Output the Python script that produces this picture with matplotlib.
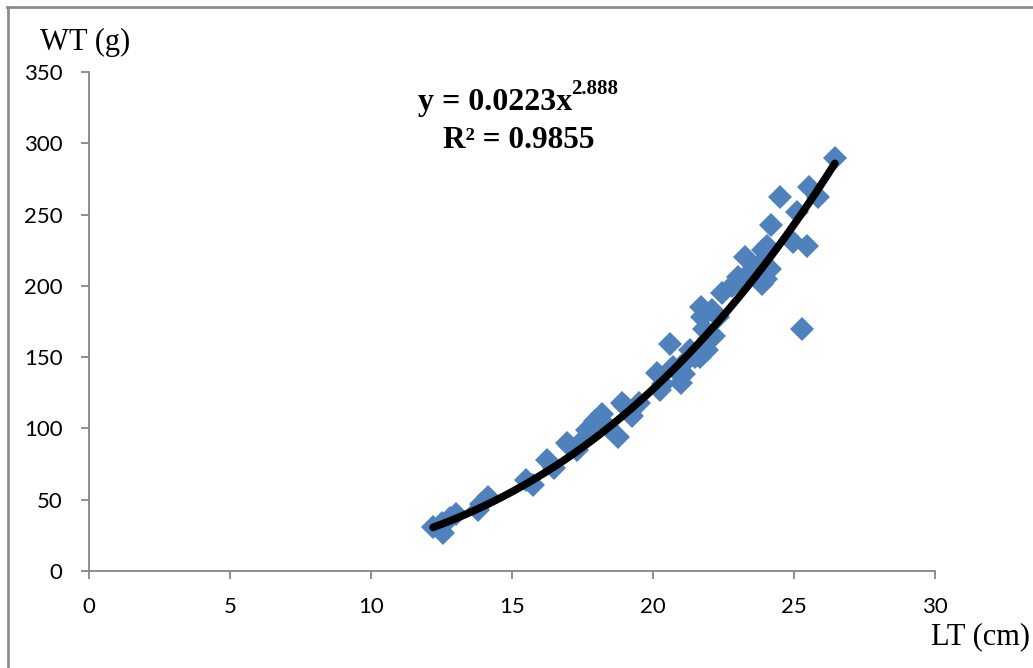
import numpy as np
import matplotlib
matplotlib.use('Agg')
import matplotlib.pyplot as plt
from matplotlib.lines import Line2D

# length (cm) and weight (g)
lt = [12.2, 12.55, 12.5, 12.8, 13.0, 13.8, 13.9, 14.15, 15.5, 15.75,
      16.25, 16.5, 16.95, 17.05, 17.3, 17.5, 17.65, 17.95, 18.2, 18.4,
      18.75, 18.9, 19.0, 19.25, 19.5, 20.15, 20.25, 20.35, 20.6, 20.7,
      20.85, 21.0, 21.05, 21.1, 21.3, 21.5, 21.65, 21.7, 21.75, 21.8,
      21.9, 22.0, 22.1, 22.15, 22.3, 22.45, 22.8, 23.0, 23.25, 23.3,
      23.5, 23.7, 23.85, 23.9, 24.0, 24.05, 24.15, 24.2, 24.5, 24.95,
      25.1, 25.3, 25.45, 25.55, 25.85, 26.45]
wt = [31, 27, 34, 37, 40, 43, 47, 52, 64, 60,
      78, 72, 90, 88, 85, 92, 99, 105, 110, 101,
      94, 118, 116, 109, 118, 139, 127, 131, 159, 143,
      140, 132, 145, 138, 155, 150, 150, 185, 178, 170,
      155, 163, 183, 165, 178, 195, 200, 206, 220, 207,
      210, 213, 201, 225, 205, 228, 212, 243, 262, 231,
      252, 170, 228, 269, 262, 290]

# power fit reported on the chart
coef_a, coef_b = 0.0223, 2.888
r2 = 0.9855

x_ticks = [0, 5, 10, 15, 20, 25, 30]
y_ticks = [0, 50, 100, 150, 200, 250, 300, 350]

fig = plt.figure(figsize=(10.33, 6.68), dpi=100)
ax = fig.add_axes([0.0862, 0.1452, 0.8189, 0.7470])

ax.plot(lt, wt, 'D', color='#4F81BD', markersize=12.5, markeredgewidth=0, zorder=2)

xs = np.linspace(min(lt), max(lt), 200)
ax.plot(xs, coef_a * xs ** coef_b, color='black', linewidth=5.5,
        solid_capstyle='round', zorder=3)

ax.set_xlim(0, 30)
ax.set_ylim(0, 350)
ax.set_xticks(x_ticks)
ax.set_yticks(y_ticks)
for s in ['top', 'right']:
  ax.spines[s].set_visible(False)
for s in ['left', 'bottom']:
  ax.spines[s].set_color('#868686')
  ax.spines[s].set_linewidth(1.3)
ax.tick_params(axis='both', direction='out', length=6, width=1.3, color='#868686',
               labelsize=16, labelfontfamily='Lato', labelcolor='black')
ax.tick_params(axis='y', pad=13)
ax.tick_params(axis='x', pad=13)

# fit equation: base text plus a raised exponent placed after it
eq = fig.text(0.4046, 0.836, f'y = {coef_a}x', fontsize=23, fontweight='bold',
              family='Liberation Serif', ha='left', va='baseline')
renderer = fig.canvas.get_renderer()
bb = eq.get_window_extent(renderer).transformed(fig.transFigure.inverted())
fig.text(bb.x1 - 0.001, 0.859, f'{coef_b}', fontsize=15, fontweight='bold',
         family='Liberation Serif', ha='left', va='baseline')
fig.text(0.502, 0.779, f'R² = {r2}', ha='center', va='baseline', fontsize=22.5,
         fontweight='bold', family='Liberation Serif')

fig.text(0.039, 0.925, 'WT (g)', fontsize=22, family='Liberation Serif',
         ha='left', va='baseline')
fig.text(0.997, 0.035, 'LT (cm)', fontsize=22, family='Liberation Serif',
         ha='right', va='baseline')

# outer frame (left and top edges)
fig.add_artist(Line2D([0.0075, 0.0075], [0.0, 0.9895], transform=fig.transFigure,
                      color='#8c8c8c', linewidth=2))
fig.add_artist(Line2D([0.0065, 1.0], [0.9895, 0.9895], transform=fig.transFigure,
                      color='#8c8c8c', linewidth=2))

fig.savefig('out.png', dpi=100)
